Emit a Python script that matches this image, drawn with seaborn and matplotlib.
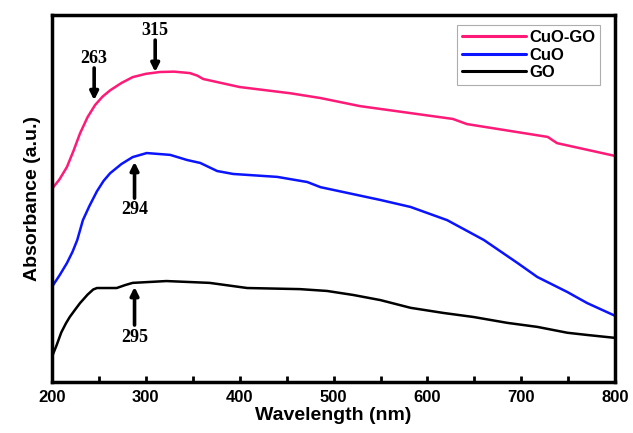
import numpy as np
import pandas as pd
import seaborn as sb
import matplotlib.pyplot as plt
from matplotlib.ticker import MultipleLocator

# UV-vis absorbance (arbitrary units)
wl_cuogo = [200, 208, 216, 223, 230, 238, 246, 254, 262, 274, 286, 300, 315, 330, 347, 355, 361,
            400, 454, 486, 528, 627, 642, 728, 738, 800]
abs_cuogo = [0.526, 0.552, 0.586, 0.630, 0.678, 0.722, 0.755, 0.778, 0.795, 0.815, 0.831, 0.840,
             0.845, 0.846, 0.842, 0.835, 0.826, 0.804, 0.787, 0.774, 0.752, 0.717, 0.703, 0.668,
             0.651, 0.616]

wl_cuo = [200, 208, 216, 222, 227, 233, 240, 248, 255, 262, 274, 286, 301, 326, 344, 358, 376,
          393, 440, 472, 486, 550, 582, 621, 660, 696, 717, 749, 770, 800]
abs_cuo = [0.259, 0.290, 0.324, 0.355, 0.387, 0.441, 0.480, 0.520, 0.548, 0.569, 0.594, 0.613,
           0.624, 0.619, 0.605, 0.597, 0.575, 0.567, 0.559, 0.545, 0.531, 0.496, 0.477, 0.441,
           0.387, 0.324, 0.286, 0.245, 0.215, 0.180]

wl_go = [200, 205, 210, 215, 219, 225, 230, 238, 244, 248, 269, 278, 286, 322, 368, 408, 464,
         493, 521, 550, 582, 617, 649, 685, 717, 749, 770, 800]
abs_go = [0.068, 0.100, 0.135, 0.160, 0.177, 0.198, 0.215, 0.238, 0.252, 0.256, 0.256, 0.264,
          0.270, 0.275, 0.270, 0.256, 0.253, 0.248, 0.237, 0.223, 0.202, 0.188, 0.177, 0.161,
          0.150, 0.134, 0.128, 0.120]

series = ["CuO-GO", "CuO", "GO"]
colors = ["#ff1a78", "#0a14ff", "#000000"]

# peak labels: text, x, arrow tail y, arrow tip y, text y
peaks = [("263", 245, 0.856, 0.768, 0.883),
         ("315", 310, 0.932, 0.845, 0.959),
         ("294", 288, 0.501, 0.600, 0.469),
         ("295", 288, 0.155, 0.259, 0.120)]

df = pd.concat([
    pd.DataFrame({"wl": wl_cuogo, "a": abs_cuogo, "s": "CuO-GO"}),
    pd.DataFrame({"wl": wl_cuo, "a": abs_cuo, "s": "CuO"}),
    pd.DataFrame({"wl": wl_go, "a": abs_go, "s": "GO"}),
])

sb.set_style("white")
plt.rcParams['font.family'] = ['Liberation Sans', 'DejaVu Sans']
plt.rcParams['text.color'] = 'black'
plt.rcParams['axes.labelcolor'] = 'black'
plt.rcParams['xtick.color'] = 'black'

fig = plt.figure(figsize=(6.33, 4.33), dpi=100)
ax = fig.add_axes([0.082, 0.118, 0.89, 0.847])

sb.lineplot(data=df, x="wl", y="a", hue="s", hue_order=series, palette=colors,
            linewidth=1.8, ax=ax, sort=False)

for txt, x, y0, y1, yt in peaks:
    ax.annotate("", xy=(x, y1), xytext=(x, y0),
                arrowprops=dict(arrowstyle="-|>", color="black", lw=2.6, mutation_scale=12,
                                shrinkA=0, shrinkB=0))
    ax.text(x, yt, txt, ha="center", va="center", fontsize=13, fontweight="bold",
            family=["Liberation Serif", "DejaVu Serif"])

ax.set_xlim(200, 800)
ax.set_ylim(0, 1)
ax.xaxis.set_major_locator(MultipleLocator(100))
ax.xaxis.set_minor_locator(MultipleLocator(50))
ax.set_yticks([])
ax.tick_params(axis="x", which="both", direction="in", length=4, width=2, bottom=True, top=False,
               labelsize=12, pad=6)
for lab in ax.get_xticklabels():
    lab.set_fontweight("bold")
for sp in ax.spines.values():
    sp.set_linewidth(2.5)
    sp.set_color("black")

ax.set_xlabel("Wavelength (nm)", fontsize=14, fontweight="bold", labelpad=1)
ax.set_ylabel("Absorbance (a.u.)", fontsize=14, fontweight="bold", labelpad=8)

leg = ax.legend(loc="upper right", bbox_to_anchor=(0.973, 0.973), fontsize=12, frameon=True,
                fancybox=False, edgecolor="#999999", handlelength=3.8, handletextpad=0.2,
                borderpad=0.3, labelspacing=0.15, borderaxespad=0)
leg.get_frame().set_linewidth(0.8)
for t in leg.get_texts():
    t.set_fontweight("bold")
for h in leg.get_lines():
    h.set_linewidth(2.2)

fig.savefig("out.png", dpi=100)
